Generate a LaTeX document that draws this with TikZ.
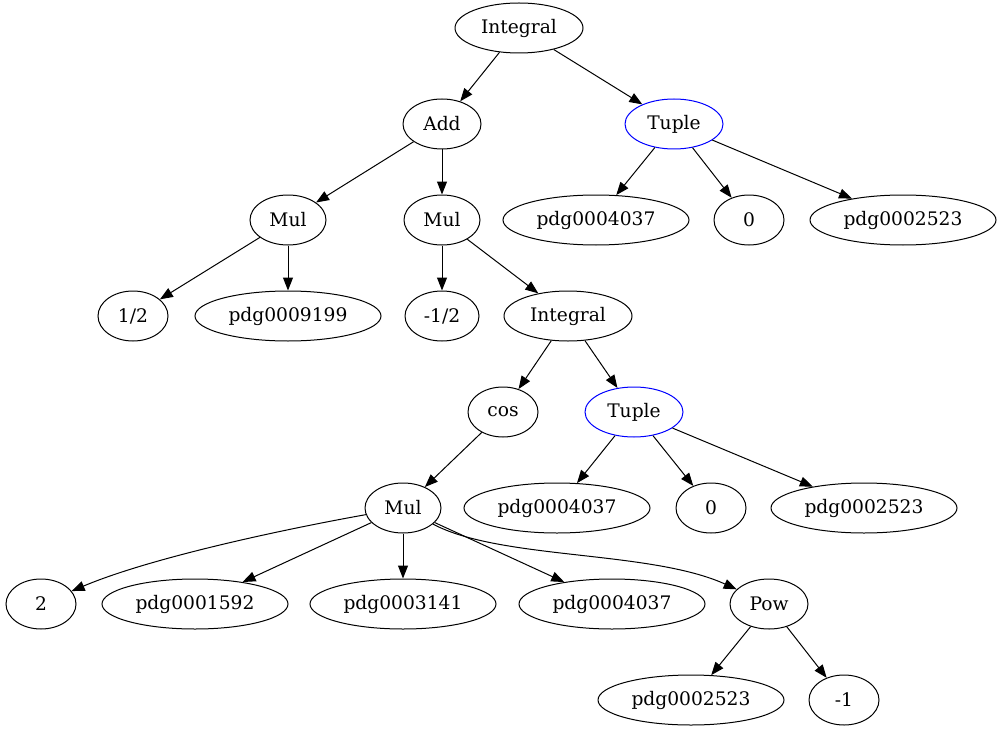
\documentclass[tikz,border=0pt]{standalone}
\usepackage{fontspec}
\setmainfont{DejaVu Serif}
\usetikzlibrary{shapes.geometric, arrows.meta}

\begin{document}
\begin{tikzpicture}[x=0.75pt, y=-0.75pt,
                    node_style/.style={ellipse, draw, line width=0.75pt, inner sep=0pt,
                                       minimum height=37.5pt, minimum width=52.5pt,
                                       font=\fontsize{14}{16}\selectfont},
                    wide/.style={node_style, minimum width=139.5pt},
                    tup/.style={node_style, draw=blue, minimum width=73.5pt},
                    edge_style/.style={-{Triangle[length=9.75pt, width=7.5pt]}, draw=black, line width=0.75pt}
   ]
   \useasboundingbox (0,0) rectangle (1002,731);
   % upper part
   \node[node_style, minimum width=96pt] (int1) at (519,28) {Integral};
   \node[node_style, minimum width=58.5pt] (add) at (442,124) {Add};
   \node[tup] (tup1) at (674,124) {Tuple};
   \node[node_style, minimum width=57pt] (mul1) at (288,220) {Mul};
   \node[node_style, minimum width=57pt] (mul2) at (442,220) {Mul};
   \node[wide] (pa) at (596,220) {pdg0004037};
   \node[node_style] (za) at (749,220) {0};
   \node[wide] (qa) at (903,220) {pdg0002523};
   \node[node_style] (half) at (133,316) {1/2};
   \node[wide] (p9199) at (288,316) {pdg0009199};
   \node[node_style, minimum width=55.5pt] (mhalf) at (442,316) {-1/2};
   \node[node_style, minimum width=96pt] (int2) at (568,316) {Integral};
   % lower part
   \node[node_style] (cos) at (503,412) {cos};
   \node[tup] (tup2) at (634,412) {Tuple};
   \node[node_style, minimum width=57pt] (mul3) at (403,508) {Mul};
   \node[wide] (pb) at (557,508) {pdg0004037};
   \node[node_style] (zb) at (711,508) {0};
   \node[wide] (qb) at (864,508) {pdg0002523};
   \node[node_style] (two) at (41,604) {2};
   \node[wide] (p1592) at (195,604) {pdg0001592};
   \node[wide] (p3141) at (403,604) {pdg0003141};
   \node[wide] (pc) at (612,604) {pdg0004037};
   \node[node_style, minimum width=58.5pt] (pow) at (769,604) {Pow};
   \node[wide] (qc) at (691,700) {pdg0002523};
   \node[node_style] (mone) at (844,700) {-1};

    \draw[edge_style] (int1) edge (add);
    \draw[edge_style] (int1) edge (tup1);
    \draw[edge_style] (add) edge (mul1);
    \draw[edge_style] (add) edge (mul2);
    \draw[edge_style] (tup1) edge (pa);
    \draw[edge_style] (tup1) edge (za);
    \draw[edge_style] (tup1) edge (qa);
    \draw[edge_style] (mul1) edge (half);
    \draw[edge_style] (mul1) edge (p9199);
    \draw[edge_style] (mul2) edge (mhalf);
    \draw[edge_style] (mul2) edge (int2);
    \draw[edge_style] (int2) edge (cos);
    \draw[edge_style] (int2) edge (tup2);
    \draw[edge_style] (cos) edge (mul3);
    \draw[edge_style] (tup2) edge (pb);
    \draw[edge_style] (tup2) edge (zb);
    \draw[edge_style] (tup2) edge (qb);
    \draw[edge_style] (mul3) .. controls (280,530) and (150,558) .. (two);
    \draw[edge_style] (mul3) edge (p1592);
    \draw[edge_style] (mul3) edge (p3141);
    \draw[edge_style] (mul3) edge (pc);
    \draw[edge_style] (mul3) .. controls (500,560) and (650,550) .. (pow);
    \draw[edge_style] (pow) edge (qc);
    \draw[edge_style] (pow) edge (mone);
\end{tikzpicture}
\end{document}
